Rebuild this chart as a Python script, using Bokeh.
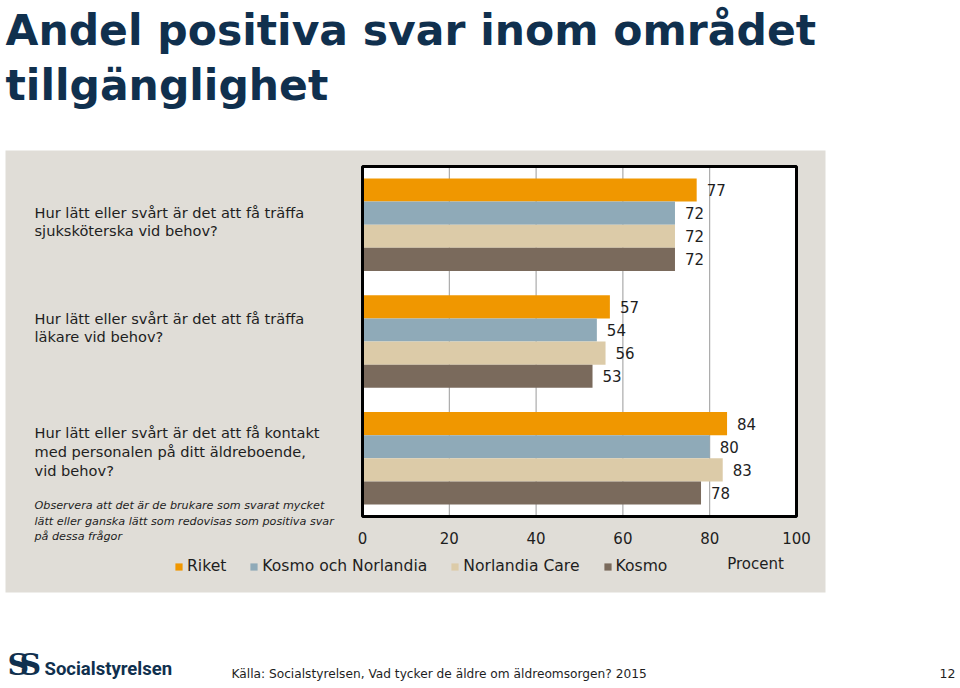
from bokeh.plotting import figure
from bokeh.models import FactorRange, Range1d, Legend, LegendItem, ColumnDataSource
from bokeh.embed import file_html
from bokeh.resources import INLINE
from bokeh.core.properties import value

# ---------------- data ----------------
title_lines = ["Andel positiva svar inom området", "tillgänglighet"]
question_ids = ["q1", "q2", "q3"]
question_lines = [
    ["Hur lätt eller svårt är det att få träffa", "sjuksköterska vid behov?"],
    ["Hur lätt eller svårt är det att få träffa", "läkare vid behov?"],
    ["Hur lätt eller svårt är det att få kontakt",
     "med personalen på ditt äldreboende,", "vid behov?"],
]
note_lines = ["Observera att det är de brukare som svarat mycket",
              "lätt eller ganska lätt som redovisas som positiva svar",
              "på dessa frågor"]
series = ["Riket", "Kosmo och Norlandia", "Norlandia Care", "Kosmo"]
colors = ["#F09700", "#8FAAB8", "#DCCBA8", "#7A6A5C"]
riket = [77, 57, 84]
kosmo_och_norlandia = [72, 54, 80]
norlandia_care = [72, 56, 83]
kosmo = [72, 53, 78]
values_by_series = [riket, kosmo_och_norlandia, norlandia_care, kosmo]
ticks = [0, 20, 40, 60, 80, 100]
tick_labels = ["0", "20", "40", "60", "80", "100"]
axis_title = "Procent"
source_text = "Källa: Socialstyrelsen, Vad tycker de äldre om äldreomsorgen? 2015"
page_number = "12"
logo_text = "Socialstyrelsen"

# ---------------- layout constants (pixels) ----------------
W, H = 958, 682
FONT = "DejaVu Sans"
NAVY = "#10304E"
TEXT = "#1E1E1E"
PANEL = "#E0DDD7"
X0_PX, X100_PX = 362, 796          # plot box left / right edges
BOX_TOP, BOX_BOTTOM = 166, 516
BAR_PX = 23.125                    # pixels per bar slot
GROUP_PAD = 1.05

n_factors = len(question_ids) * len(series)
L = n_factors + (len(question_ids) - 1) * GROUP_PAD
PAD = (H / BAR_PX - L) / 2
Y_TOP = L + PAD
SX = (X100_PX - X0_PX) / 100.0


def xd(px):
    return (px - X0_PX) / SX


def yd(py):
    return Y_TOP - py / BAR_PX


factors = [(q, s) for q in reversed(question_ids) for s in reversed(series)]
yr = FactorRange(*factors, group_padding=GROUP_PAD, range_padding=PAD,
                 range_padding_units="absolute")

p = figure(width=W, height=H, x_range=Range1d(xd(0), xd(W)), y_range=yr,
           x_axis_type=None, y_axis_type=None, min_border=0,
           outline_line_color=None, toolbar_location=None, output_backend="svg")
p.background_fill_color = "white"
p.border_fill_color = "white"

# grey panel and white plot box
p.quad(left=xd(5), right=xd(825), top=yd(150), bottom=yd(592),
       fill_color=PANEL, line_color=None)
p.quad(left=0, right=100, top=yd(BOX_TOP), bottom=yd(BOX_BOTTOM),
       fill_color="white", line_color=None)
inner = ticks[1:-1]
p.segment(x0=inner, x1=inner, y0=[yd(BOX_BOTTOM)] * len(inner),
          y1=[yd(BOX_TOP)] * len(inner), line_color="#9A9A9A", line_width=1)

items = []
for name, col, vals in zip(series, colors, values_by_series):
    src = ColumnDataSource(dict(y=[(q, name) for q in question_ids], right=vals,
                                lab=[str(v) for v in vals]))
    r = p.hbar(y="y", left=0, right="right", height=1.0, source=src,
               fill_color=col, line_color=None)
    p.text(x="right", y="y", text="lab", source=src, x_offset=10,
           text_font=value(FONT), text_font_size="15px", text_color=TEXT,
           text_baseline="middle", text_align="left")
    items.append(LegendItem(label=name, renderers=[r]))

p.quad(left=0, right=100, top=yd(BOX_TOP), bottom=yd(BOX_BOTTOM),
       fill_color=None, line_color="black", line_width=3)

# x tick labels and axis title
p.text(x=ticks, y=[yd(537)] * len(ticks), text=tick_labels,
       text_font=value(FONT), text_font_size="15px", text_color=TEXT,
       text_baseline="middle", text_align="center")
p.text(x=[xd(755)], y=[yd(563)], text=[axis_title], text_font=value(FONT),
       text_font_size="15px", text_color=TEXT, text_baseline="middle",
       text_align="center")

legend = Legend(items=items, orientation="horizontal", location=(174, H - 575),
                glyph_width=9, glyph_height=9, label_height=9, label_standoff=4,
                spacing=23, padding=0, margin=0, background_fill_alpha=0,
                border_line_color=None, label_text_font=FONT,
                label_text_font_size="15.6px", label_text_color=TEXT,
                label_text_baseline="middle")
p.add_layout(legend)

# title
p.text(x=[xd(5), xd(5)], y=[yd(30), yd(85)], text=title_lines,
       text_font=value(FONT), text_font_style="bold", text_font_size="42.5px",
       text_color=NAVY, text_baseline="middle", text_align="left")

# question texts
q_y = [[212, 230], [318, 336], [432, 451, 470]]
for lines, ys in zip(question_lines, q_y):
    p.text(x=[xd(34)] * len(lines), y=[yd(v) for v in ys], text=lines,
           text_font=value(FONT), text_font_size="14.6px", text_color=TEXT,
           text_baseline="middle", text_align="left")
p.text(x=[xd(34)] * 3, y=[yd(v) for v in [505, 521, 536]], text=note_lines,
       text_font=value(FONT), text_font_size="11.2px", text_font_style="italic",
       text_color=TEXT, text_baseline="middle", text_align="left")

# footer
p.text(x=[xd(7), xd(19)], y=[yd(664), yd(664)], text=["S", "S"],
       text_font=value("DejaVu Serif"), text_font_style="bold",
       text_font_size="30px", text_color=NAVY, text_baseline="middle",
       text_align="left")
p.text(x=[xd(44)], y=[yd(668)], text=[logo_text], text_font=value("Roboto"),
       text_font_style="bold", text_font_size="18.5px", text_color=NAVY,
       text_baseline="middle", text_align="left")
p.text(x=[xd(231)], y=[yd(673)], text=[source_text], text_font=value(FONT),
       text_font_size="12.2px", text_color=TEXT, text_baseline="middle",
       text_align="left")
p.text(x=[xd(955)], y=[yd(673)], text=[page_number], text_font=value(FONT),
       text_font_size="12.5px", text_color=TEXT, text_baseline="middle",
       text_align="right")

open("out.html", "w").write(file_html(p, INLINE))
